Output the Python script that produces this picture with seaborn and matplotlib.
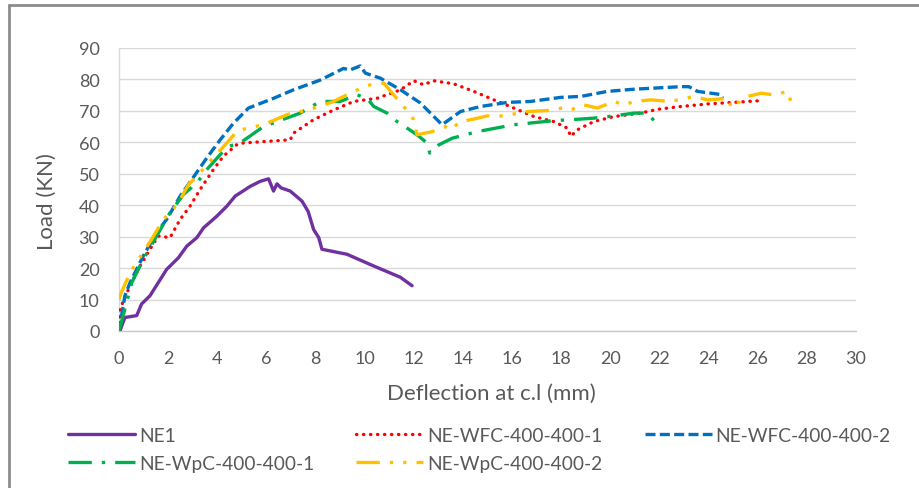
import matplotlib
matplotlib.use("Agg")
import matplotlib.pyplot as plt
from matplotlib.lines import Line2D
import seaborn as sns
import pandas as pd

# ---------------- data ----------------
x_ticks = list(range(0, 31, 2))
y_ticks = list(range(0, 91, 10))

ne1_x = [0, 0.04, 0.24, 0.72, 0.92, 1.26, 1.6, 1.94, 2.42, 2.76, 3.17, 3.44, 3.98, 4.39, 4.73,
         5.34, 5.75, 6.09, 6.29, 6.43, 6.6, 6.97, 7.45, 7.7, 7.92, 8.13, 8.26, 9.28, 10.36, 11.45, 11.93]
ne1_y = [0, 0.1, 4.3, 4.9, 8.6, 11.2, 15.4, 19.6, 23.3, 27, 29.7, 32.8, 36.5, 39.7, 42.9,
         46, 47.6, 48.4, 44.5, 46.8, 45.5, 44.5, 41.3, 38, 32.3, 29.7, 26, 24.4, 20.7, 17.1, 14.4]

wfc1_x = [0, 0.04, 0.45, 0.86, 1.26, 1.6, 2.08, 2.49, 2.89, 3.3, 3.84, 4.25, 4.8, 5.07, 6.97, 7.1,
          7.92, 8.74, 9.55, 10.5, 11.46, 12.0, 12.4, 12.8, 13.63, 14.44, 15.26, 16.07, 16.89, 17.7,
          18.25, 18.39, 18.66, 19.33, 20.15, 21.24, 21.92, 22.87, 23.96, 26.0]
wfc1_y = [0, 7, 14.4, 20.7, 26, 30.2, 29.7, 35.5, 39.7, 45, 51.3, 55.6, 59.3, 59.8, 60.8, 62.9,
          67.2, 70.3, 73, 74, 76.7, 79.6, 78.3, 79.6, 78.6, 76.2, 73.5, 70.9, 68.2, 66.6,
          64.5, 61.9, 64, 66.6, 68.2, 69.3, 70.5, 71.4, 72.2, 73.2]

wfc2_x = [0, 0.24, 0.45, 0.99, 1.53, 1.94, 2.49, 3.1, 3.57, 4.12, 4.66, 5.27, 6.29, 7.1, 8.19,
          9.14, 9.4, 9.82, 10.03, 10.64, 11.46, 12.27, 13.15, 13.9, 14.72, 15.8, 16.75, 17.98,
          18.8, 19.88, 20.97, 22.87, 23.2, 23.55, 24.5, 24.57]
wfc2_y = [0, 11.2, 15.4, 23.9, 31.3, 35.5, 42.9, 49.7, 55, 60.8, 66.1, 70.9, 74, 76.7, 79.8,
          83.5, 83, 84.3, 82, 80.4, 76.7, 72.5, 65.6, 69.8, 71.4, 72.7, 73, 74.3,
          74.6, 76.2, 76.9, 77.7, 77.7, 76.2, 75.2, 74]

wpc1_x = [0, 0.24, 0.52, 0.99, 1.53, 2.08, 2.62, 3.17, 3.57, 4.12, 4.46, 4.93, 5.88, 7.38, 8.19,
          9.0, 9.69, 10.1, 10.37, 10.91, 11.32, 11.73, 12.13, 12.54, 12.65, 13.02, 13.56, 14.58,
          16.07, 17.7, 18.8, 19.34, 20.15, 20.97, 21.5, 21.78]
wpc1_y = [0, 7, 15.4, 22.8, 30.2, 37.6, 43.4, 47.1, 51.3, 56.1, 58.7, 59.8, 65, 69.3, 73,
          73, 75.1, 74, 71.4, 69.3, 66.6, 64.5, 62.4, 59.8, 56.6, 59.2, 61.3, 63.4,
          65.6, 66.9, 67.4, 67.7, 68.4, 69.3, 69.3, 66.9]

wpc2_x = [0, 0.04, 0.45, 1.33, 1.81, 2.15, 2.49, 2.83, 3.17, 3.71, 4.39, 4.8, 5.21, 5.88, 6.84,
          7.79, 8.74, 9.55, 10.23, 10.78, 11.18, 11.59, 12.0, 12.13, 12.74, 13.29, 13.49, 13.9,
          14.44, 14.99, 15.67, 16.62, 17.43, 18.04, 18.39, 18.93, 19.47, 20.15, 20.56, 20.97,
          21.65, 22.46, 23.41, 23.95, 24.84, 24.91, 25.18, 25.59, 26.13, 26.68, 27.22, 27.35]
wpc2_y = [10, 11.2, 18.6, 29.2, 35.5, 38.1, 41.8, 46.6, 49.2, 54, 59.8, 63.5, 64.5, 65.6, 68.8,
          70.5, 73, 76.2, 78.3, 78.8, 75.1, 71.4, 67.2, 62.4, 63.4, 65, 64, 66.6,
          67.4, 68.4, 68.4, 69.8, 70.1, 70.9, 70.3, 71.9, 70.9, 73, 71.9, 73,
          73.5, 73, 74.6, 73.5, 74, 70.9, 72.5, 74.6, 75.6, 75.1, 76.2, 73]

# ---------------- styling ----------------
sns.set_theme(style="white")
plt.rcParams["font.family"] = ["Lato", "DejaVu Sans"]
TXT = "#595959"
FS_TICK = 13
FS_LEG = 13.8
FS_TITLE = 16

series = [
    ("NE1", ne1_x, ne1_y, "#7030A0", "-", "butt"),
    ("NE-WFC-400-400-1", wfc1_x, wfc1_y, "#FF0000", (0, (0.1, 2.0)), "round"),
    ("NE-WFC-400-400-2", wfc2_x, wfc2_y, "#0070C0", (0, (3, 1.3)), "butt"),
    ("NE-WpC-400-400-1", wpc1_x, wpc1_y, "#00B050", (0, (7, 3, 1, 3)), "butt"),
    ("NE-WpC-400-400-2", wpc2_x, wpc2_y, "#FFC000", (0, (7, 3, 1, 3, 1, 3)), "butt"),
]

W, H = 919, 489
fig = plt.figure(figsize=(W / 100, H / 100), dpi=100)
ax = fig.add_axes([119 / W, 1 - 332 / H, (856 - 119) / W, (332 - 49) / H])

handles = {}
for name, xs, ys, col, ls, cap in series:
    df = pd.DataFrame({"x": xs, "y": ys})
    sns.lineplot(data=df, x="x", y="y", ax=ax, sort=False, estimator=None,
                 color=col, linewidth=2.4, zorder=3)
    ln = ax.lines[-1]
    ln.set_linestyle(ls)
    ln.set_dash_capstyle(cap)
    ln.set_solid_capstyle("round")
    ln.set_solid_joinstyle("round")
    h = Line2D([], [], color=col, linewidth=2.4, linestyle=ls, dash_capstyle=cap)
    handles[name] = h

ax.set_xlim(0, 30)
ax.set_ylim(0, 90)
ax.set_xticks(x_ticks)
ax.set_yticks(y_ticks)
ax.set_xticklabels([str(v) for v in x_ticks])
ax.set_yticklabels([str(v) for v in y_ticks])
ax.set_xlabel("")
ax.set_ylabel("")
ax.grid(axis="y", color="#D9D9D9", linewidth=1.0)
ax.grid(axis="x", visible=False)
ax.set_axisbelow(True)
for s in ["top", "right"]:
    ax.spines[s].set_visible(False)
ax.spines["left"].set_color("#D9D9D9")
ax.spines["left"].set_linewidth(1.0)
ax.spines["bottom"].set_color("#C8C8C8")
ax.spines["bottom"].set_linewidth(1.0)
ax.tick_params(axis="both", length=0, labelsize=FS_TICK, labelcolor=TXT)
ax.tick_params(axis="y", pad=14)
ax.tick_params(axis="x", pad=14)

fig.text(47 / W, 1 - 202 / H, "Load (KN)", rotation=90, ha="center", va="center",
         fontsize=FS_TITLE, color=TXT)
fig.text(491 / W, 1 - 394 / H, "Deflection at c.l (mm)", ha="center", va="center",
         fontsize=FS_TITLE, color=TXT)

order = ["NE1", "NE-WpC-400-400-1", "NE-WFC-400-400-1", "NE-WpC-400-400-2", "NE-WFC-400-400-2"]
leg = fig.legend([handles[k] for k in order], order, ncol=3, loc="upper left",
                 bbox_to_anchor=(68 / W, 1 - 428 / H), frameon=False, fontsize=FS_LEG,
                 handlelength=3.5, handletextpad=0.2, columnspacing=2.2,
                 labelspacing=0.56, borderpad=0, borderaxespad=0)
for t in leg.get_texts():
    t.set_color(TXT)

# outer frame (top and left edges visible in reference)
fig.add_artist(Line2D([9 / W, 9 / W], [0, 1 - 6 / H], color="#8C8C8C", linewidth=2.0,
                      transform=fig.transFigure))
fig.add_artist(Line2D([9 / W, 1], [1 - 6 / H, 1 - 6 / H], color="#8C8C8C", linewidth=2.0,
                      transform=fig.transFigure))

fig.savefig("out.png", dpi=100)
